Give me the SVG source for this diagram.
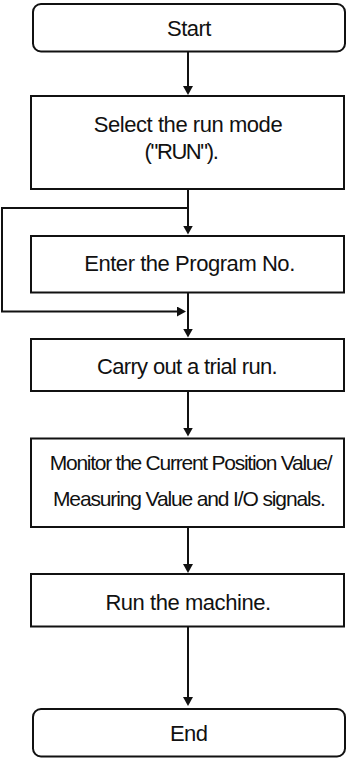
<svg xmlns="http://www.w3.org/2000/svg" width="346" height="758" viewBox="0 0 346 758">
<style>
.box{fill:#fff;stroke:#111;stroke-width:2}
.t{font-family:"Liberation Sans",Arial,sans-serif;font-size:22px;letter-spacing:-0.45px;fill:#111;text-anchor:middle}
.m{font-size:21px}
.c{fill:none;stroke:#111;stroke-width:2}
</style>
<defs>
<marker id="ah" viewBox="0 0 9 10" refX="4" refY="5" markerWidth="9" markerHeight="10" markerUnits="userSpaceOnUse" orient="auto">
<path d="M0,0 L9,5 L0,10 z" fill="#111"/>
</marker>
</defs>
<g id="connectors">
<line class="c" x1="188" y1="52" x2="188" y2="90" marker-end="url(#ah)"/>
<line class="c" x1="188" y1="189" x2="188" y2="229.5" marker-end="url(#ah)"/>
<path class="c" d="M188,208 H2 V311.5 H181" marker-end="url(#ah)"/>
<line class="c" x1="188" y1="292.5" x2="188" y2="332.5" marker-end="url(#ah)"/>
<line class="c" x1="188" y1="391" x2="188" y2="431.5" marker-end="url(#ah)"/>
<line class="c" x1="188" y1="527" x2="188" y2="568" marker-end="url(#ah)"/>
<line class="c" x1="188" y1="626.5" x2="188" y2="701" marker-end="url(#ah)"/>
</g>
<g id="start">
<rect class="box" x="33" y="4" width="312" height="47.5" rx="8"/>
<text class="t" x="189" y="35.5" style="letter-spacing:-0.5px">Start</text>
</g>
<g id="select">
<rect class="box" x="31" y="96" width="313" height="93"/>
<text class="t" x="188" y="132.3">Select the run mode</text>
<text class="t" x="181" y="159" style="letter-spacing:-1.4px">("RUN").</text>
</g>
<g id="enter">
<rect class="box" x="31" y="236" width="313" height="56.5"/>
<text class="t" x="189.5" y="271">Enter the Program No.</text>
</g>
<g id="trial">
<rect class="box" x="31" y="339" width="313" height="52"/>
<text class="t" x="187" y="374.3" style="letter-spacing:-0.65px">Carry out a trial run.</text>
</g>
<g id="monitor">
<rect class="box" x="31" y="438.5" width="313" height="88.5"/>
<text class="t m" x="190.5" y="470" style="letter-spacing:-1.25px">Monitor the Current Position Value/</text>
<text class="t m" x="188.8" y="505.7" style="letter-spacing:-1.13px">Measuring Value and I/O signals.</text>
</g>
<g id="run">
<rect class="box" x="31" y="574" width="313" height="52.5"/>
<text class="t" x="188" y="609.7">Run the machine.</text>
</g>
<g id="end">
<rect class="box" x="33" y="709" width="312" height="47.5" rx="8"/>
<text class="t" x="188.7" y="741.3" style="letter-spacing:-0.6px">End</text>
</g>
</svg>
